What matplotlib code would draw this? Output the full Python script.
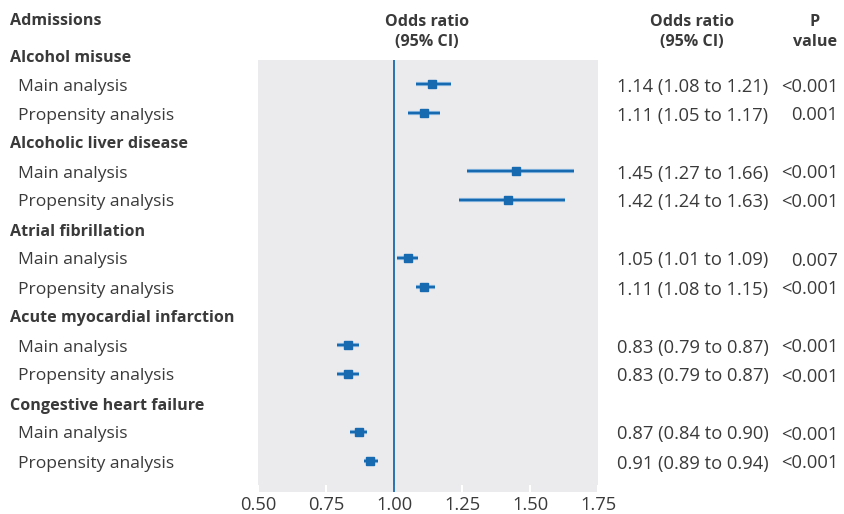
import matplotlib
matplotlib.use("Agg")
import matplotlib.pyplot as plt

# Forest plot data: odds ratios with 95% confidence intervals
groups = ["Alcohol misuse", "Alcoholic liver disease", "Atrial fibrillation",
          "Acute myocardial infarction", "Congestive heart failure"]
analyses = ["Main analysis", "Propensity analysis"]
odds = [[1.14, 1.11], [1.45, 1.42], [1.05, 1.11], [0.83, 0.83], [0.87, 0.91]]
lower = [[1.08, 1.05], [1.27, 1.24], [1.01, 1.08], [0.79, 0.79], [0.84, 0.89]]
upper = [[1.21, 1.17], [1.66, 1.63], [1.09, 1.15], [0.87, 0.87], [0.90, 0.94]]
pvals = [["<0.001", "0.001"], ["<0.001", "<0.001"], ["0.007", "<0.001"],
         ["<0.001", "<0.001"], ["<0.001", "<0.001"]]
xticks = [0.50, 0.75, 1.00, 1.25, 1.50, 1.75]

plt.rcParams["font.family"] = ["Open Sans", "DejaVu Sans"]
TXT = "#3a3a3a"
BLUE = "#1769b0"
HALO = "#7fb0dc"
PANEL = "#ebebed"
FS = 12.6
FS_B = 11.6
FS_NUM = 13.2

W, H = 845, 514
fig = plt.figure(figsize=(W / 100, H / 100), dpi=100)
ax = fig.add_axes([258 / W, 22 / H, 340 / W, 432 / H])
ax.set_facecolor(PANEL)
for s in ax.spines.values():
    s.set_visible(False)

ax.set_xlim(0.5, 1.75)
ax.set_ylim(15.07, 0.17)
ax.set_xticks(xticks)
ax.set_xticklabels([f"{t:.2f}" for t in xticks], fontsize=FS_NUM, color=TXT)
ax.tick_params(axis="x", direction="in", length=5, width=1.5, color="white", pad=3)
ax.set_yticks([])

ax.axvline(1.0, color=BLUE, lw=1.3, zorder=2)

def fig_y(row):
    # convert a row index to figure fraction (text centre)
    return 1 - (57.5 + 29 * row) / H

row = 0
for g, name in enumerate(groups):
    fig.text(10 / W, fig_y(row), name, fontsize=FS_B, fontweight="bold",
             color=TXT, va="center", ha="left")
    row += 1
    for a, an in enumerate(analyses):
        fig.text(18 / W, fig_y(row), an, fontsize=FS, color=TXT,
                 va="center", ha="left")
        ax.plot([lower[g][a], upper[g][a]], [row, row], color=HALO, lw=3.0,
                solid_capstyle="butt", zorder=3)
        ax.plot([lower[g][a], upper[g][a]], [row, row], color=BLUE, lw=1.5,
                solid_capstyle="butt", zorder=4)
        ax.plot([odds[g][a]], [row], marker="s", ms=5.5, color=BLUE,
                mec=BLUE, zorder=5)
        fig.text(617 / W, fig_y(row),
                 f"{odds[g][a]:.2f} ({lower[g][a]:.2f} to {upper[g][a]:.2f})",
                 fontsize=FS_NUM, color=TXT, va="center", ha="left")
        fig.text(838 / W, fig_y(row), pvals[g][a], fontsize=FS_NUM, color=TXT,
                 va="center", ha="right")
        row += 1

# Column headers
fig.text(10 / W, 1 - 21 / H, "Admissions", fontsize=FS_B, fontweight="bold",
         color=TXT, va="center", ha="left")
fig.text(427 / W, 1 - 32 / H, "Odds ratio\n(95% CI)", fontsize=FS_B,
         fontweight="bold", color=TXT, va="center", ha="center",
         linespacing=1.3)
fig.text(692 / W, 1 - 32 / H, "Odds ratio\n(95% CI)", fontsize=FS_B,
         fontweight="bold", color=TXT, va="center", ha="center",
         linespacing=1.3)
fig.text(815 / W, 1 - 32 / H, "P\nvalue", fontsize=FS_B, fontweight="bold",
         color=TXT, va="center", ha="center", linespacing=1.3)

fig.savefig("out.png", dpi=100, facecolor="white")
